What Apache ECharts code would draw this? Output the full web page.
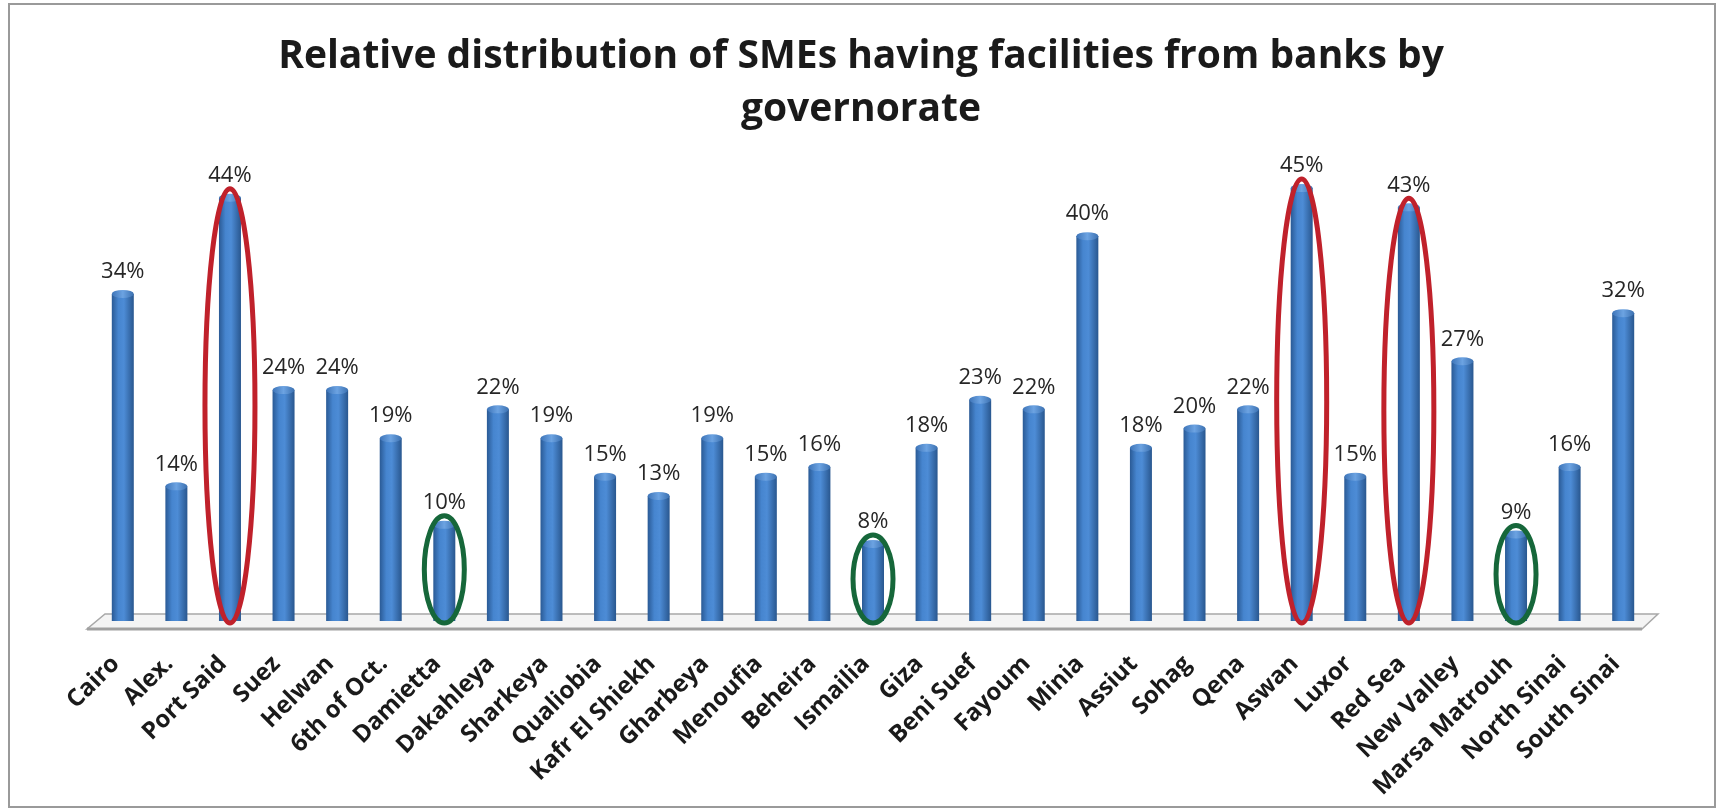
<!DOCTYPE html>
<html>
<head>
<meta charset="utf-8">
<script src="https://cdn.jsdelivr.net/npm/echarts@6/dist/echarts.min.js"></script>
<style>
html,body{margin:0;padding:0;background:#fff;}
#chart{width:1722px;height:811px;}
</style>
</head>
<body>
<div id="chart"></div>
<script>
const categories = ['Cairo','Alex.','Port Said','Suez','Helwan','6th of Oct.','Damietta','Dakahleya','Sharkeya','Qualiobia','Kafr El Shiekh','Gharbeya','Menoufia','Beheira','Ismailia','Giza','Beni Suef','Fayoum','Minia','Assiut','Sohag','Qena','Aswan','Luxor','Red Sea','New Valley','Marsa Matrouh','North Sinai','South Sinai'];
const values = [34,14,44,24,24,19,10,22,19,15,13,19,15,16,8,18,23,22,40,18,20,22,45,15,43,27,9,16,32];
const highHighlights = ['Port Said','Aswan','Red Sea'];
const lowHighlights = ['Damietta','Ismailia','Marsa Matrouh'];
const titleText = 'Relative distribution of SMEs having facilities from banks by\ngovernorate';

const FONT = '"Open Sans", "Noto Sans", sans-serif';

const ringData = [];
highHighlights.forEach(n => { const i = categories.indexOf(n); ringData.push([i, values[i], 1]); });
lowHighlights.forEach(n => { const i = categories.indexOf(n); ringData.push([i, values[i], 0]); });

const chart = echarts.init(document.getElementById('chart'), null, {renderer: 'canvas'});

const barGrad = new echarts.graphic.LinearGradient(0, 0, 1, 0, [
  {offset: 0, color: '#2a5a95'},
  {offset: 0.3, color: '#4685cf'},
  {offset: 0.55, color: '#4d8cd6'},
  {offset: 1, color: '#29578f'}
]);
const capGrad = new echarts.graphic.LinearGradient(0, 0, 1, 0, [
  {offset: 0, color: '#3d74b8'},
  {offset: 0.5, color: '#6ca3e2'},
  {offset: 1, color: '#3b70b0'}
]);

chart.setOption({
  backgroundColor: '#ffffff',
  animation: false,
  title: {
    text: titleText,
    left: 'center',
    top: 25,
    textStyle: {
      fontFamily: FONT,
      fontWeight: 'bold',
      fontSize: 39,
      lineHeight: 53,
      color: '#1a1a1a'
    }
  },
  grid: {left: 96, right: 72, top: 140, bottom: 190, containLabel: false},
  xAxis: {
    type: 'category',
    data: categories,
    axisLine: {show: false},
    axisTick: {show: false},
    axisLabel: {
      interval: 0,
      rotate: 45,
      margin: 32,
      padding: [0, 10, 0, 0],
      fontFamily: FONT,
      fontWeight: 'bold',
      fontSize: 24,
      color: '#1a1a1a'
    }
  },
  yAxis: {
    type: 'value',
    min: 0,
    max: 50,
    show: false,
    splitLine: {show: false}
  },
  series: [
    {
      type: 'custom',
      name: 'floor',
      clip: false,
      z: 1,
      silent: true,
      data: [[0, 0]],
      renderItem: function (params, api) {
        const n = categories.length;
        const p0 = api.coord([0, 0]);
        const pN = api.coord([n - 1, 0]);
        const bw = api.size([1, 0])[0];
        const left = p0[0] - bw / 2;
        const right = pN[0] + bw / 2;
        const y = p0[1];
        return {
          type: 'group',
          children: [
            {
              type: 'polygon',
              shape: {points: [[left + 9, y - 7], [right + 8, y - 7], [right - 8, y + 8], [left - 9, y + 8]]},
              style: {fill: '#f4f4f4', stroke: '#a8a8a8', lineWidth: 1.5}
            },
            {
              type: 'line',
              shape: {x1: left - 9, y1: y + 8, x2: right - 8, y2: y + 8},
              style: {stroke: '#a0a0a0', lineWidth: 3}
            }
          ]
        };
      }
    },
    {
      type: 'bar',
      name: 'share',
      data: values,
      barWidth: 22,
      z: 3,
      itemStyle: {color: barGrad},
      label: {
        show: true,
        position: 'top',
        distance: 11,
        formatter: p => p.value + '%',
        fontFamily: FONT,
        fontSize: 22,
        color: '#262626'
      }
    },
    {
      type: 'pictorialBar',
      name: 'cap',
      data: values,
      symbol: 'circle',
      symbolSize: [22, 8],
      symbolPosition: 'end',
      symbolOffset: [0, '-50%'],
      z: 4,
      silent: true,
      itemStyle: {color: capGrad}
    },
    {
      type: 'custom',
      name: 'rings',
      clip: false,
      z: 10,
      silent: true,
      data: ringData,
      renderItem: function (params, api) {
        const idx = api.value(0);
        const v = api.value(1);
        const kind = api.value(2);
        const top = api.coord([idx, v]);
        const base = api.coord([idx, 0]);
        const yTop = top[1] - 9;
        const yBot = base[1] + 2;
        const rx = kind === 1 ? 25 : 20;
        return {
          type: 'ellipse',
          shape: {cx: top[0], cy: (yTop + yBot) / 2, rx: rx, ry: (yBot - yTop) / 2},
          style: {fill: 'none', stroke: kind === 1 ? '#c0212b' : '#16673a', lineWidth: 5}
        };
      }
    }
  ],
  graphic: [
    {
      type: 'rect',
      silent: true,
      shape: {x: 9, y: 4, width: 1706, height: 803},
      style: {fill: 'none', stroke: '#9a9a9a', lineWidth: 2}
    }
  ]
});
</script>
</body>
</html>
